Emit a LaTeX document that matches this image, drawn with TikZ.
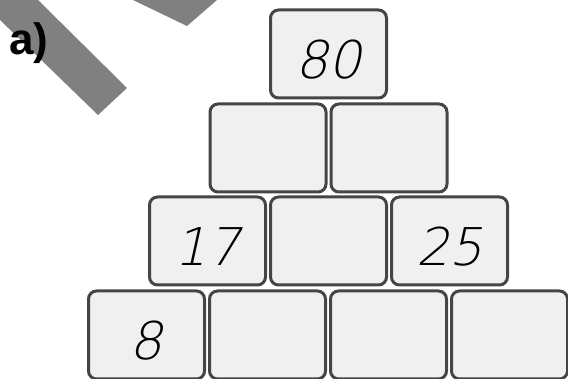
\documentclass[tikz,border=0pt]{standalone}
\usepackage{fontspec}
\usetikzlibrary{positioning}
\setmainfont{Liberation Sans}
\newfontfamily\handfont[FakeSlant=0.22]{DejaVu Sans ExtraLight}
\definecolor{boxfill}{HTML}{F0F0F0}
\definecolor{boxline}{HTML}{454545}
\definecolor{pencilgrey}{HTML}{808080}

\begin{document}
\begin{tikzpicture}[
    x=1pt, y=-1pt,
    brick/.style={rectangle, rounded corners=8pt, minimum width=116pt, minimum height=88pt, inner sep=0pt, text height=49pt, text depth=0pt, text centered, draw=boxline, fill=boxfill, line width=3pt, font=\handfont\fontsize{52}{60}\selectfont},
    tag/.style={inner sep=0pt, font=\bfseries\fontsize{44}{50}\selectfont},
    pencil/.style={fill=pencilgrey, draw=none}
]
\useasboundingbox (0,0) rectangle (568,379);

% Pencil strokes
\path [pencil] (0,0) -- (38,0) -- (127,88) -- (98,115) -- (0,20) -- cycle;
\path [pencil] (133,0) -- (187,26) -- (217,0) -- cycle;

% Label
\node (label) [tag] at (29,43) {a)};

% Bottom row
\node (b1) [brick] at (146.5,335) {8};
\node (b2) [brick] at (267.5,335) {};
\node (b3) [brick] at (388.5,335) {};
\node (b4) [brick] at (509.5,335) {};

% Third row
\node (c1) [brick] at (207.5,241) {17};
\node (c2) [brick] at (328.5,241) {};
\node (c3) [brick] at (449.5,241) {25};

% Second row
\node (d1) [brick] at (268,148) {};
\node (d2) [brick] at (389,148) {};

% Top
\node (top) [brick] at (328.5,54) {80};

\end{tikzpicture}
\end{document}
